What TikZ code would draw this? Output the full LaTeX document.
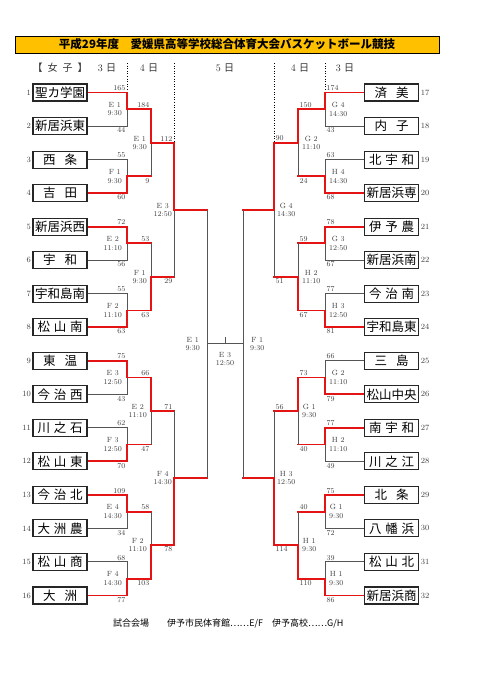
\documentclass[tikz,border=0pt]{standalone}
\usepackage{fontspec}
\newfontfamily\jp{Noto Sans CJK JP}
\newcommand{\nmtwo}[2]{\makebox[34pt][s]{#1\hfil#2}}
\newcommand{\nmthree}[3]{\makebox[45pt][s]{#1\hfil#2\hfil#3}}
\definecolor{winred}{RGB}{228,20,20}
\definecolor{linegray}{RGB}{85,85,85}
\definecolor{titlebg}{RGB}{255,192,0}
\tikzset{
  team/.style={draw=black!85, line width=1.1pt, fill=white, minimum width=54pt, minimum height=17pt, inner sep=0pt, font=\jp\fontsize{12.5}{13}\selectfont},
  seed/.style={font=\fontsize{8}{9}\selectfont, inner sep=1.5pt, text=black!75},
  score/.style={font=\fontsize{7.5}{8}\selectfont, inner sep=1.5pt, text=black!75},
  game/.style={font=\fontsize{7.5}{8.5}\selectfont, align=center, inner sep=0pt, text=black!75},
  win/.style={draw=winred, line width=1.8pt},
  adv/.style={win, line cap=rect},
  lose/.style={draw=linegray, line width=1pt},
  day/.style={font=\fontsize{10}{11}\selectfont, text=black!80},
  sep/.style={draw=black, line width=0.6pt, dotted}
}
\begin{document}
\begin{tikzpicture}[x=1pt,y=-1pt]
\fill[white] (0,0) rectangle (481,680);
\useasboundingbox (0,0) rectangle (481,680);

%Title
\node[draw=black, line width=0.8pt, fill=titlebg, minimum width=424pt, minimum height=17pt, inner sep=0pt,
  font=\jp\bfseries\fontsize{11.5}{12}\selectfont] (title) at (227,44.5)
  {平成29年度　愛媛県高等学校総合体育大会バスケットボール競技};

%Days
\coordinate (top) at (0,63);
\node[day] (hgirls) at (60,68) {\jp 【\hspace{5pt}女\hspace{5pt}子\hspace{5pt}】};
\node[day] (hd3l) at (107,68) {3 {\jp 日}};
\node[day] (hd4l) at (149,68) {4 {\jp 日}};
\node[day] (hd5) at (225,68) {5 {\jp 日}};
\node[day] (hd4r) at (300,68) {4 {\jp 日}};
\node[day] (hd3r) at (345,68) {3 {\jp 日}};

%Teams
\foreach \i/\school in {1/聖カ学園, 2/新居浜東, 3/\nmtwo{西}{条}, 4/\nmtwo{吉}{田},
  5/新居浜西, 6/\nmtwo{宇}{和}, 7/宇和島南, 8/\nmthree{松}{山}{南},
  9/\nmtwo{東}{温}, 10/\nmthree{今}{治}{西}, 11/\nmthree{川}{之}{石}, 12/\nmthree{松}{山}{東},
  13/\nmthree{今}{治}{北}, 14/\nmthree{大}{洲}{農}, 15/\nmthree{松}{山}{商}, 16/\nmtwo{大}{洲}} {
  \node[team] (L\i) at (60,{92.5+(\i-1)*33.53}) {\school};
  \node[seed, anchor=east] at (L\i.west) {\i};
}
\foreach \i/\school in {17/\nmtwo{済}{美}, 18/\nmtwo{内}{子}, 19/\nmthree{北}{宇}{和}, 20/新居浜専,
  21/\nmthree{伊}{予}{農}, 22/新居浜南, 23/\nmthree{今}{治}{南}, 24/宇和島東,
  25/\nmtwo{三}{島}, 26/松山中央, 27/\nmthree{南}{宇}{和}, 28/\nmthree{川}{之}{江},
  29/\nmtwo{北}{条}, 30/\nmthree{八}{幡}{浜}, 31/\nmthree{松}{山}{北}, 32/新居浜商} {
  \node[team] (R\i) at (391.5,{92.5+(\i-17)*33.53}) {\school};
  \node[seed, anchor=west] at (R\i.east) {\i};
}

%Junctions
\foreach \k in {1,...,8} {
  \coordinate (la\k) at (127,{92.5+(2*\k-1.5)*33.53});
  \coordinate (ra\k) at (325,{92.5+(2*\k-1.5)*33.53});
}
\foreach \k in {1,...,4} {
  \coordinate (lb\k) at (151,{92.5+(4*\k-2.5)*33.53});
  \coordinate (rb\k) at (298,{92.5+(4*\k-2.5)*33.53});
}
\foreach \k in {1,2} {
  \coordinate (lc\k) at (174,{92.5+(8*\k-4.5)*33.53});
  \coordinate (rc\k) at (274,{92.5+(8*\k-4.5)*33.53});
}
\coordinate (ls) at (207,343.98);
\coordinate (rs) at (243,343.98);
\coordinate (fin) at (225,343.98);

%Day separators
\draw[sep] (top -| la1) -- (L1.east -| la1);
\draw[sep] (top -| lc1) -- (lb1 -| lc1);
\draw[sep] (top -| ra1) -- (R17.west -| ra1);
\draw[sep] (top -| rc1) -- (rb1 -| rc1);

%Left, first round
\foreach \k/\ct/\cb/\st/\sb/\m/\tm [evaluate=\k as \ia using int(2*\k-1), evaluate=\k as \ib using int(2*\k)] in
  {1/win/lose/165/44/E 1/9:30, 2/lose/win/55/60/F 1/9:30, 3/win/lose/72/56/E 2/11:10, 4/lose/win/55/63/F 2/11:10,
   5/win/lose/75/43/E 3/12:50, 6/lose/win/62/70/F 3/12:50, 7/win/lose/109/34/E 4/14:30, 8/lose/win/68/77/F 4/14:30} {
  \draw[\cb] (L\ib.east) -- (L\ib.east -| la\k) -- (la\k);
  \draw[\ct] (L\ia.east) -- (L\ia.east -| la\k) -- (la\k);
  \node[score, anchor=south east] at (L\ia.east -| la\k) {\st};
  \node[score, anchor=north east] at (L\ib.east -| la\k) {\sb};
  \node[game, anchor=east] at ([xshift=-5pt]la\k) {\m\\\tm};
}
%Left, second round
\foreach \k/\ct/\cb/\st/\sb/\m/\tm [evaluate=\k as \ia using int(2*\k-1), evaluate=\k as \ib using int(2*\k)] in
  {1/win/lose/184/9/E 1/9:30, 2/lose/win/53/63/F 1/9:30, 3/win/lose/66/47/E 2/11:10, 4/lose/win/58/103/F 2/11:10} {
  \draw[adv] (la\ia) -- (la\ia -| lb\k);
  \draw[adv] (la\ib) -- (la\ib -| lb\k);
  \draw[\ct] (la\ia -| lb\k) -- (lb\k);
  \draw[\cb] (la\ib -| lb\k) -- (lb\k);
  \node[score, anchor=south east] at (la\ia -| lb\k) {\st};
  \node[score, anchor=north east] at (la\ib -| lb\k) {\sb};
  \node[game, anchor=east] at ([xshift=-4pt]lb\k) {\m\\\tm};
}
%Left, third round
\foreach \k/\ct/\cb/\st/\sb/\m/\tm [evaluate=\k as \ia using int(2*\k-1), evaluate=\k as \ib using int(2*\k)] in
  {1/win/lose/112/29/E 3/12:50, 2/lose/win/71/78/F 4/14:30} {
  \draw[adv] (lb\ia) -- (lb\ia -| lc\k);
  \draw[adv] (lb\ib) -- (lb\ib -| lc\k);
  \draw[\ct] (lb\ia -| lc\k) -- (lc\k);
  \draw[\cb] (lb\ib -| lc\k) -- (lc\k);
  \node[score, anchor=south east] at (lb\ia -| lc\k) {\st};
  \node[score, anchor=north east] at (lb\ib -| lc\k) {\sb};
  \node[game, anchor=east] at ([xshift=-2pt]lc\k) {\m\\\tm};
}

%Right, first round
\foreach \k/\ct/\cb/\st/\sb/\m/\tm [evaluate=\k as \ia using int(2*\k+15), evaluate=\k as \ib using int(2*\k+16)] in
  {1/win/lose/174/43/G 4/14:30, 2/lose/win/63/68/H 4/14:30, 3/win/lose/78/67/G 3/12:50, 4/lose/win/77/81/H 3/12:50,
   5/lose/win/66/79/G 2/11:10, 6/win/lose/77/49/H 2/11:10, 7/win/lose/75/72/G 1/9:30, 8/lose/win/39/86/H 1/9:30} {
  \draw[\cb] (R\ib.west) -- (R\ib.west -| ra\k) -- (ra\k);
  \draw[\ct] (R\ia.west) -- (R\ia.west -| ra\k) -- (ra\k);
  \node[score, anchor=south west] at (R\ia.west -| ra\k) {\st};
  \node[score, anchor=north west] at (R\ib.west -| ra\k) {\sb};
  \node[game, anchor=west] at ([xshift=4pt]ra\k) {\m\\\tm};
}
%Right, second round
\foreach \k/\ct/\cb/\st/\sb/\m/\tm [evaluate=\k as \ia using int(2*\k-1), evaluate=\k as \ib using int(2*\k)] in
  {1/win/lose/150/24/G 2/11:10, 2/lose/win/59/67/H 2/11:10, 3/win/lose/73/40/G 1/9:30, 4/lose/win/40/110/H 1/9:30} {
  \draw[adv] (ra\ia) -- (ra\ia -| rb\k);
  \draw[adv] (ra\ib) -- (ra\ib -| rb\k);
  \draw[\ct] (ra\ia -| rb\k) -- (rb\k);
  \draw[\cb] (ra\ib -| rb\k) -- (rb\k);
  \node[score, anchor=south west] at (ra\ia -| rb\k) {\st};
  \node[score, anchor=north west] at (ra\ib -| rb\k) {\sb};
  \node[game, anchor=west] at ([xshift=4pt]rb\k) {\m\\\tm};
}
%Right, third round
\foreach \k/\ct/\cb/\st/\sb/\m/\tm [evaluate=\k as \ia using int(2*\k-1), evaluate=\k as \ib using int(2*\k)] in
  {1/win/lose/90/51/G 4/14:30, 2/lose/win/56/114/H 3/12:50} {
  \draw[adv] (rb\ia) -- (rb\ia -| rc\k);
  \draw[adv] (rb\ib) -- (rb\ib -| rc\k);
  \draw[\ct] (rb\ia -| rc\k) -- (rc\k);
  \draw[\cb] (rb\ib -| rc\k) -- (rc\k);
  \node[score, anchor=south west] at (rb\ia -| rc\k) {\st};
  \node[score, anchor=north west] at (rb\ib -| rc\k) {\sb};
  \node[game, anchor=west] at ([xshift=3pt]rc\k) {\m\\\tm};
}

%Semifinals and final
\draw[adv] (lc1) -- (lc1 -| ls);
\draw[adv] (lc2) -- (lc2 -| ls);
\draw[lose] (lc1 -| ls) -- (lc2 -| ls);
\draw[adv] (rc1) -- (rc1 -| rs);
\draw[adv] (rc2) -- (rc2 -| rs);
\draw[lose] (rc1 -| rs) -- (rc2 -| rs);
\draw[lose] (ls) -- (rs);
\draw[lose] (fin) -- ++(0,-7);
\node[game, anchor=east] at ([xshift=-7pt]ls) {E 1\\9:30};
\node[game, anchor=west] at ([xshift=7pt]rs) {F 1\\9:30};
\node[game, anchor=north] at ([yshift=-8pt]fin) {E 3\\12:50};

%Venue
\node[anchor=west, inner sep=0pt, font=\jp\fontsize{9}{10}\selectfont] (venue) at (113,623)
  {試合会場　　伊予市民体育館……E/F　伊予高校……G/H};
\end{tikzpicture}
\end{document}
